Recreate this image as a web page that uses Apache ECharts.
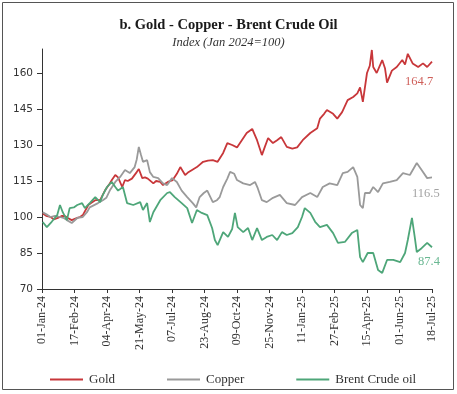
<!DOCTYPE html>
<html>
<head>
<meta charset="utf-8">
<script src="https://cdn.jsdelivr.net/npm/echarts@6/dist/echarts.min.js"></script>
<style>html,body{margin:0;padding:0;background:#fff}#c{width:457px;height:394px}</style>
</head>
<body>
<div id="c"></div>
<script>
// x values: days since 01-Jan-2024
const xTickLabels = ['01-Jan-24','17-Feb-24','04-Apr-24','21-May-24','07-Jul-24','23-Aug-24','09-Oct-24','25-Nov-24','11-Jan-25','27-Feb-25','15-Apr-25','01-Jun-25','18-Jul-25'];
const yTicks = [70, 85, 100, 115, 130, 145, 160];

const goldDay = [1,6,12,17,23,29,33,38,43,51,55,59,67,72,77,84,91,97,101,106,110,116,120,124,130,137,140,145,149,153,161,165,171,175,182,189,195,200,207,211,217,224,233,240,247,254,262,268,275,282,289,296,304,311,318,322,327,334,340,346,354,362,369,377,388,398,402,408,412,421,427,434,442,450,456,460,464,470,474,477,479,484,492,496,499,506,513,521,525,529,536,544,551,557,564];
const goldVal = [101.5,100.5,100.1,99,99.6,100.5,100.4,99.5,98.7,99.6,100,100.8,105,106,107,107,111,113.5,115.4,117.5,116.5,112.5,115.4,115,116,118.7,120,116.2,116.5,116,114,115,114.6,113.3,114.6,115.4,118,120.8,117.5,118.5,119.6,120.8,123,123.5,123.7,123,126.7,130.8,130,129,132,135,136.7,132,125.8,129,132.9,130.8,132,133.3,129.2,128.5,129,132,135,137,141,143,144.6,143,141,143.7,148.7,150,151.5,154,148,160,163,169.6,162.5,160,165.4,162,156,161,162.5,165.4,163.5,168,164,162.5,164,162.5,164.7];

const copperDay = [1,7,12,19,26,32,36,43,51,59,65,69,81,88,93,98,106,113,120,127,134,137,140,143,146,152,156,161,168,175,181,188,195,202,210,218,223,228,234,239,247,253,257,262,268,272,278,282,291,301,308,312,318,325,334,344,354,366,376,388,398,406,416,427,435,442,450,456,460,464,467,474,479,486,493,503,513,522,532,542,549,557,564];
const copperVal = [102,101,100,100.5,100,99.5,98.7,97.5,99.6,100,102,104,105.8,107,108,111,114.6,116.7,119.6,118.3,120.8,124,129.2,126,123,123.7,118.7,116.7,116.2,114,113.3,116.2,114.6,111,108.3,105.8,104,108.3,110,111,106.2,107,108.3,112.5,116,118.8,118,115.4,114,113.3,114.6,112,107,106.2,108,109.2,105.8,105,108.3,110,108.3,112.5,114,113.3,118.3,118.8,120.8,116.7,105,103.7,110,110,112.5,110.4,114,114.6,115.4,118.3,117.5,122.5,119.6,116.2,116.5];

const brentDay = [1,7,14,22,26,30,36,40,46,51,58,62,69,77,84,88,94,101,106,110,117,123,132,142,146,152,156,161,171,181,185,192,202,210,217,224,231,239,246,250,254,262,269,275,279,283,291,298,304,311,318,325,333,340,347,354,362,370,376,380,388,395,402,412,421,428,438,448,456,460,464,471,479,486,492,499,508,518,525,529,535,539,542,549,557,564];
const brentVal = [97.9,95.8,98,100.8,105,102,98.7,103.7,104,105,105.8,103.7,105.8,108.3,106.2,109.2,112.5,114.6,112.5,111,112.5,105.8,105,106.2,102.9,105.8,97.9,102,107,110,110.4,108.3,105.8,103.7,97.5,102.9,101.7,100.8,95.4,90.4,88.3,93.7,91.7,95,101.7,95.8,93.7,95.4,90.4,95.4,90.4,91.7,92.5,90.4,93.7,92.5,93.3,95.8,100,103.7,101.7,98,95.8,96.7,93.3,89.2,89.6,93.3,94.6,83.3,81.2,85,85,77.9,76.7,82.1,82.1,81.2,85,90.4,99.6,91.7,85.4,87,89.2,87.4];

function pairs(d, v) { return d.map((x, i) => [x, v[i]]); }

const serif = '"Liberation Serif", "DejaVu Serif", serif';
const chart = echarts.init(document.getElementById('c'));
const endLabel = (color, off) => ({
  show: true, distance: 0, offset: off,
  formatter: p => p.value[1].toFixed(1),
  color: color, fontFamily: serif, fontSize: 12.5
});

chart.setOption({
  animation: false,
  backgroundColor: '#fff',
  title: {
    text: 'b. Gold - Copper - Brent Crude Oil',
    subtext: 'Index (Jan 2024=100)',
    left: 'center', top: 13, itemGap: 3,
    textStyle: { fontFamily: serif, fontWeight: 'bold', fontSize: 14.5, color: '#1a1a1a' },
    subtextStyle: { fontFamily: serif, fontStyle: 'italic', fontSize: 12.5, color: '#333' }
  },
  legend: {
    left: 45, top: 368, itemGap: 52, itemWidth: 33, itemHeight: 2, icon: 'rect',
    textStyle: { fontFamily: serif, fontSize: 13, color: '#333', padding: [0, 0, 0, 1] },
    data: ['Gold', 'Copper', 'Brent Crude oil']
  },
  grid: { left: 42, right: 25, top: 49, bottom: 105, containLabel: false },
  xAxis: {
    type: 'value', min: 0, max: 564, interval: 47,
    splitLine: { show: false },
    axisLine: { lineStyle: { color: '#333', width: 1 } },
    axisTick: { show: true, length: 4, lineStyle: { color: '#333' } },
    axisLabel: {
      rotate: 90, margin: 7, fontFamily: serif, fontSize: 12, color: '#333',
      formatter: v => xTickLabels[Math.round(v / 47)] || ''
    }
  },
  yAxis: {
    type: 'value', min: 70, max: 170,
    splitLine: { show: false },
    axisLine: { show: true, lineStyle: { color: '#333', width: 1 } },
    axisTick: { show: true, length: 5, customValues: yTicks, lineStyle: { color: '#333' } },
    axisLabel: { customValues: yTicks, margin: 9, fontFamily: '"DejaVu Sans", sans-serif', fontSize: 10.5, color: '#333' }
  },
  series: [
    { name: 'Gold', type: 'line', showSymbol: false, symbol: 'none',
      lineStyle: { color: '#c8373a', width: 1.8 }, itemStyle: { color: '#c8373a' },
      endLabel: endLabel('#cf5f5a', [-27, 20]),
      data: pairs(goldDay, goldVal) },
    { name: 'Copper', type: 'line', showSymbol: false, symbol: 'none',
      lineStyle: { color: '#9a9a9a', width: 1.8 }, itemStyle: { color: '#9a9a9a' },
      endLabel: endLabel('#a3a3a3', [-20, 16]),
      data: pairs(copperDay, copperVal) },
    { name: 'Brent Crude oil', type: 'line', showSymbol: false, symbol: 'none',
      lineStyle: { color: '#4ea679', width: 1.8 }, itemStyle: { color: '#4ea679' },
      endLabel: endLabel('#6bb893', [-14, 14]),
      data: pairs(brentDay, brentVal) }
  ],
  graphic: [{
    type: 'rect', shape: { x: 2.5, y: 2.5, width: 451, height: 387 },
    style: { fill: 'none', stroke: '#555', lineWidth: 1 }, silent: true
  }]
});
</script>
</body>
</html>
